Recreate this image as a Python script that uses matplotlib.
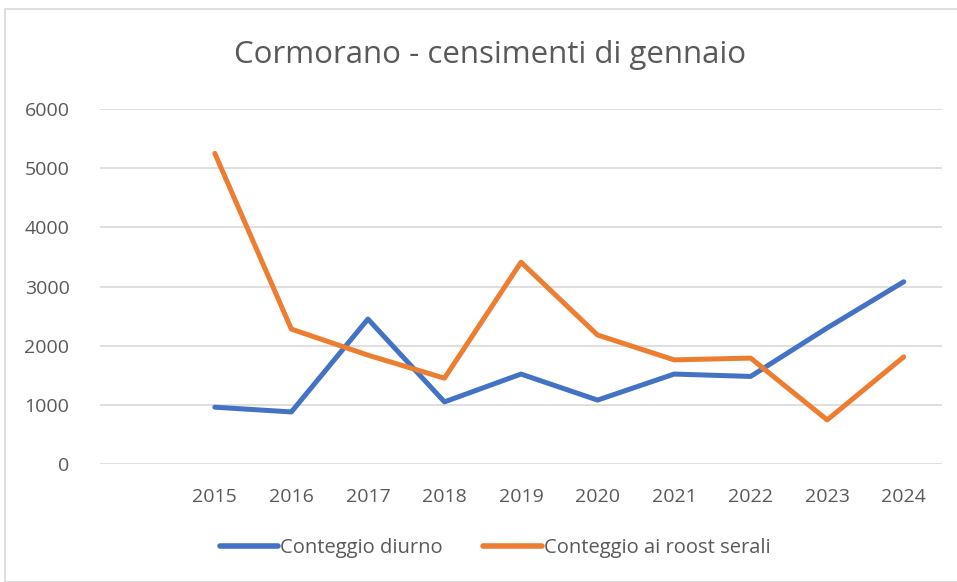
import matplotlib
matplotlib.use("Agg")
import matplotlib.pyplot as plt
from matplotlib.patches import Rectangle

categories = ["", "2015", "2016", "2017", "2018", "2019", "2020", "2021", "2022", "2023", "2024"]
diurno = [None, 960, 880, 2450, 1050, 1520, 1080, 1520, 1480, 2300, 3080]
serali = [None, 5250, 2280, 1840, 1450, 3410, 2180, 1760, 1790, 745, 1810]
yticks = [0, 1000, 2000, 3000, 4000, 5000, 6000]

plt.rcParams['font.family'] = ['Open Sans', 'DejaVu Sans']
txt = '#595959'

W, H = 957, 582
fig = plt.figure(figsize=(W/100, H/100), dpi=100)
fig.patch.set_facecolor('white')
fig.add_artist(Rectangle((5/W, 0), 1, 1 - 9/H, transform=fig.transFigure,
                         fill=False, edgecolor='#d9d9d9', linewidth=1.2))

ax = fig.add_axes([100/W, 1 - 464/H, 842/W, 355/H])
xs = list(range(len(categories)))
xd = [x for x, v in zip(xs, diurno) if v is not None]
yd = [v for v in diurno if v is not None]
xr = [x for x, v in zip(xs, serali) if v is not None]
yr = [v for v in serali if v is not None]
ax.plot(xd, yd, color='#4472C4', lw=3.6, solid_capstyle='round', solid_joinstyle='round', label='Conteggio diurno', zorder=3)
ax.plot(xr, yr, color='#ED7D31', lw=3.6, solid_capstyle='round', solid_joinstyle='round', label='Conteggio ai roost serali', zorder=3)

ax.set_xlim(-0.5, len(categories) - 0.5)
ax.set_ylim(0, 6000)
ax.set_yticks(yticks)
ax.set_yticklabels([str(t) for t in yticks])
ax.set_xticks(xs)
ax.set_xticklabels(categories)
ax.grid(axis='y', color='#d9d9d9', lw=1.2)
ax.set_axisbelow(True)
for s in ax.spines.values():
    s.set_visible(False)
ax.tick_params(axis='both', length=0, colors=txt, labelsize=14)
ax.tick_params(axis='x', pad=17)
ax.tick_params(axis='y', pad=22)
for lab in ax.get_yticklabels():
    lab.set_horizontalalignment('right')

fig.text(490/W, 1 - 55/H, 'Cormorano - censimenti di gennaio', ha='center', va='center',
         fontsize=22.5, color=txt)

leg = fig.legend(loc='center', bbox_to_anchor=(495/W, 1 - 548/H), ncol=2, frameon=False,
                 fontsize=14.5, labelcolor=txt, handlelength=2.9, handletextpad=0.1, columnspacing=2.0)
for l in leg.get_lines():
    l.set_linewidth(4.0)

fig.savefig('out.png', dpi=100, facecolor='white')
